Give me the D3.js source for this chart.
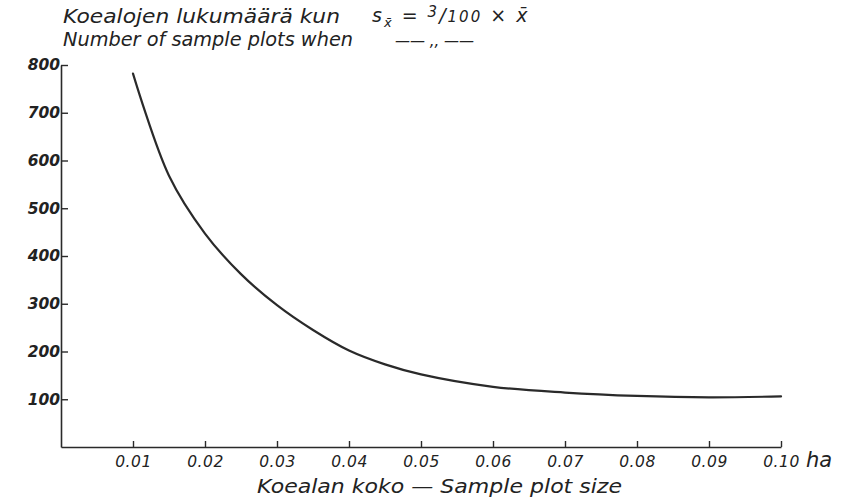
<!DOCTYPE html>
<html>
<head>
<meta charset="utf-8">
<script src="https://cdn.jsdelivr.net/npm/d3@7"></script>
<style>
  html, body { margin: 0; padding: 0; background: #fff; }
  svg { display: block; }
  text { font-family: "DejaVu Sans", sans-serif; font-style: italic; fill: #222; }
</style>
</head>
<body>
<svg id="chart" width="846" height="501"></svg>
<script>
// Data
const plotSize = [0.01, 0.015, 0.02, 0.025, 0.03, 0.035, 0.04, 0.045, 0.05, 0.06, 0.07, 0.08, 0.09, 0.10];
const plotCount = [782, 568, 447, 362, 297, 245, 202, 173, 152, 126, 114, 107, 104, 106];
const xTicks = [0.01, 0.02, 0.03, 0.04, 0.05, 0.06, 0.07, 0.08, 0.09, 0.10];
const yTicks = [100, 200, 300, 400, 500, 600, 700, 800];

const svg = d3.select("#chart");
const x = d3.scaleLinear().domain([0, 0.10]).range([61, 781]);
const y = d3.scaleLinear().domain([0, 800]).range([447, 65]);

const ink = "#2a2a2a";

// Y axis
const gy = svg.append("g").attr("transform", `translate(${x(0)},0)`)
  .call(d3.axisLeft(y).tickValues(yTicks).tickSizeInner(-7).tickSizeOuter(0).tickPadding(1).tickFormat(d3.format("d")));
gy.select(".domain").attr("stroke", ink).attr("stroke-width", 1.6);
gy.selectAll(".tick line").attr("stroke", ink).attr("stroke-width", 1.4);
gy.selectAll(".tick text").attr("font-size", 15.5).attr("font-family", "DejaVu Sans").attr("font-style", "italic").attr("fill", "#222").attr("font-weight", "bold");

// X axis
const gx = svg.append("g").attr("transform", `translate(0,${y(0)})`)
  .call(d3.axisBottom(x).tickValues(xTicks).tickSizeInner(-6).tickSizeOuter(0).tickPadding(9).tickFormat(d3.format(".2f")));
gx.select(".domain").attr("stroke", ink).attr("stroke-width", 1.6);
gx.selectAll(".tick line").attr("stroke", ink).attr("stroke-width", 1.4);
gx.selectAll(".tick text").attr("font-size", 15.5).attr("font-family", "DejaVu Sans").attr("font-style", "italic").attr("fill", "#222").attr("letter-spacing", 0.5);

// "ha" unit
svg.append("text").attr("x", 806).attr("y", 467).attr("font-size", 21).text("ha");

// Curve
const line = d3.line().x((d, i) => x(plotSize[i])).y(d => y(d)).curve(d3.curveCatmullRom.alpha(0.5));
svg.append("path").datum(plotCount).attr("d", line)
  .attr("fill", "none").attr("stroke", ink).attr("stroke-width", 2.2).attr("stroke-linecap", "round");

// X axis title
svg.append("text").attr("x", 257).attr("y", 493).attr("font-size", 20)
  .attr("textLength", 365).attr("lengthAdjust", "spacingAndGlyphs")
  .text("Koealan koko — Sample plot size");

// Title lines
svg.append("text").attr("x", 63).attr("y", 23).attr("font-size", 19)
  .attr("textLength", 277).attr("lengthAdjust", "spacingAndGlyphs")
  .text("Koealojen lukumäärä kun");
const f = svg.append("text").attr("x", 372).attr("y", 22).attr("font-size", 19).attr("letter-spacing", 2);
f.append("tspan").text("s");
f.append("tspan").attr("font-size", 13).attr("dy", 5).text("x̄");
f.append("tspan").attr("dy", -5).text("  =  ");
f.append("tspan").attr("font-size", 15).attr("dy", -5).text("3");
f.append("tspan").attr("dy", 5).text("/");
f.append("tspan").attr("font-size", 15).text("100");
f.append("tspan").text("  ×  x̄");

svg.append("text").attr("x", 63).attr("y", 46).attr("font-size", 19)
  .attr("textLength", 290).attr("lengthAdjust", "spacingAndGlyphs")
  .text("Number of sample plots when");
svg.append("text").attr("x", 395).attr("y", 46).attr("font-size", 15)
  .text("—— ,, ——");
</script>
</body>
</html>
